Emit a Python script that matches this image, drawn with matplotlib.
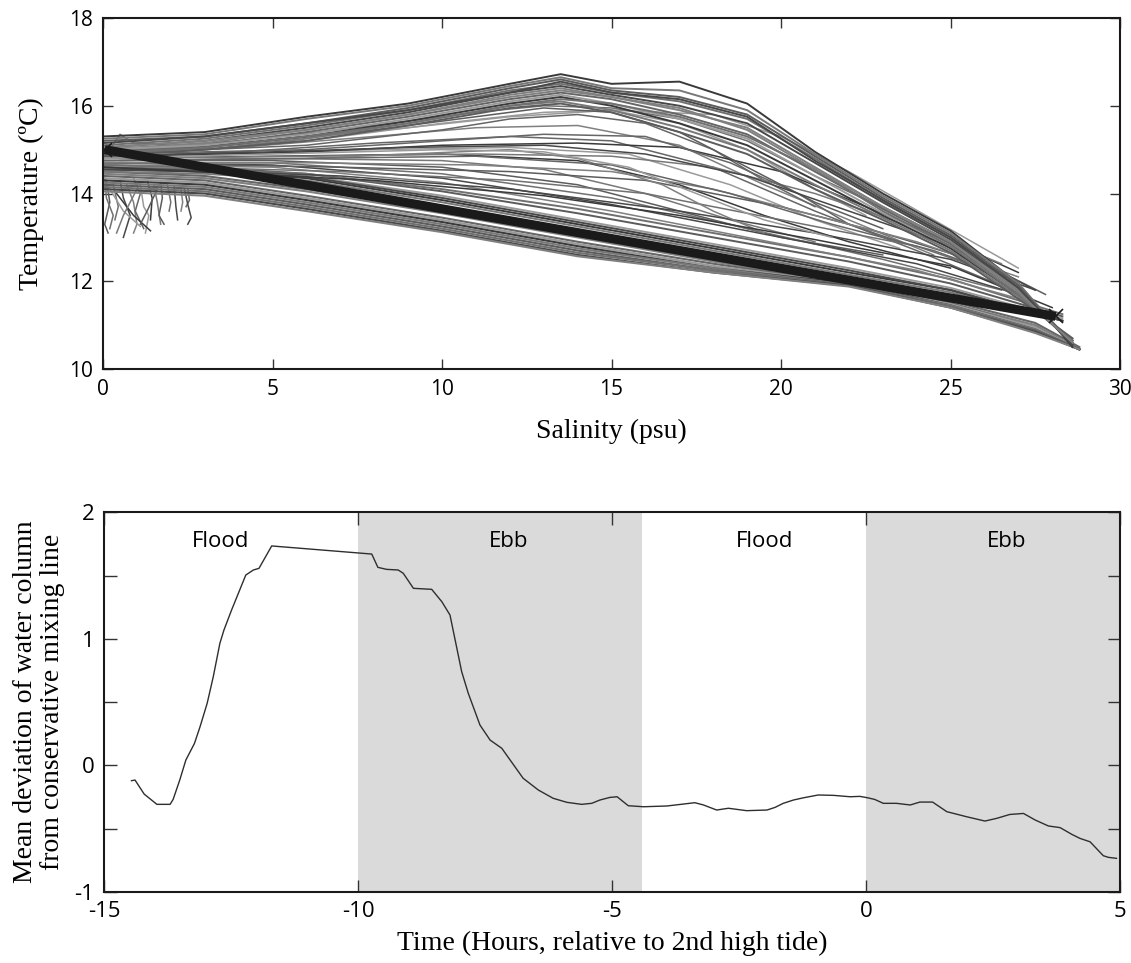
import numpy as np
import matplotlib
matplotlib.use("Agg")
import matplotlib.pyplot as plt

plt.rcParams['axes.unicode_minus'] = False

# ---------- top panel: T-S profiles (salinity psu, temperature degC) ----------
# warm bundle, common salinity grid
up_s = [0, 3, 6, 9, 12, 13.5, 15, 17, 19, 21, 23, 25, 27, 28.6]
up_t = [
    [15.3, 15.4, 15.75, 16.05, 16.5, 16.72, 16.5, 16.55, 16.05, 14.95, 14.0, 13.15, 11.95, 10.5],
    [15.25, 15.35, 15.7, 16.0, 16.45, 16.65, 16.4, 16.35, 15.9, 14.9, 13.95, 13.1, 11.95, 10.55],
    [15.2, 15.3, 15.6, 15.95, 16.4, 16.6, 16.35, 16.2, 15.8, 14.85, 13.9, 13.05, 11.9, 10.55],
    [15.1, 15.25, 15.55, 15.9, 16.35, 16.5, 16.3, 16.1, 15.7, 14.8, 13.85, 13.0, 11.85, 10.6],
    [15.05, 15.2, 15.5, 15.85, 16.3, 16.45, 16.25, 16.0, 15.6, 14.7, 13.8, 12.95, 11.8, 10.6],
    [15.0, 15.15, 15.45, 15.8, 16.2, 16.35, 16.2, 15.9, 15.5, 14.6, 13.7, 12.9, 11.8, 10.6],
    [14.95, 15.1, 15.4, 15.75, 16.15, 16.3, 16.15, 15.8, 15.35, 14.5, 13.65, 12.85, 11.75, 10.6],
    [15.0, 15.1, 15.35, 15.7, 16.1, 16.25, 16.05, 15.7, 15.25, 14.4, 13.55, 12.8, 11.7, 10.65],
    [14.9, 15.05, 15.3, 15.65, 16.05, 16.2, 16.0, 15.6, 15.1, 14.3, 13.5, 12.75, 11.7, 10.65],
    [14.95, 15.0, 15.25, 15.6, 16.0, 16.1, 15.9, 15.5, 15.0, 14.2, 13.45, 12.7, 11.65, 10.65],
    [14.85, 15.0, 15.2, 15.55, 15.95, 16.05, 15.85, 15.4, 14.9, 14.1, 13.4, 12.65, 11.6, 10.7],
    [14.9, 15.05, 15.3, 15.6, 16.0, 16.15, 16.05, 15.75, 15.3, 14.55, 13.6, 12.8, 11.7, 10.6],
    [15.15, 15.3, 15.6, 15.9, 16.3, 16.55, 16.3, 16.15, 15.75, 14.75, 13.85, 13.0, 11.85, 10.55],
    [15.05, 15.2, 15.45, 15.8, 16.25, 16.4, 16.2, 15.95, 15.45, 14.55, 13.7, 12.9, 11.75, 10.6],
]

# fan of profiles between the warm bundle and the mixing line
mid_profiles = [
    [(0, 14.9), (4, 15.05), (8, 15.3), (11, 15.5), (14, 15.55), (17, 15.1), (19.5, 14.2), (22, 13.4), (24.5, 12.6)],
    [(0, 14.85), (4, 14.95), (8, 15.15), (12, 15.3), (15, 15.2), (18, 14.6), (21, 13.6), (24, 12.7), (26.5, 11.9)],
    [(0, 14.8), (4, 14.9), (8, 15.0), (12, 15.05), (15.5, 14.9), (18.5, 14.2), (21, 13.4), (23.5, 12.75)],
    [(0, 14.8), (5, 14.85), (10, 14.9), (14, 14.75), (17, 14.2), (19.5, 13.5), (22, 12.9), (25, 12.3)],
    [(0, 14.75), (5, 14.8), (10, 14.75), (13, 14.55), (16, 14.0), (18.5, 13.4), (21, 12.9)],
    [(0, 14.75), (5, 14.75), (10, 14.6), (14, 14.2), (17, 13.6), (20, 13.0), (23, 12.6)],
    [(0, 14.7), (5, 14.7), (10, 14.45), (15, 13.9), (19, 13.2), (23, 12.5), (26.5, 11.8)],
    [(0, 14.7), (5, 14.65), (10, 14.35), (15, 13.75), (20, 13.0), (24, 12.4), (27, 11.7)],
    [(0, 14.65), (5, 14.6), (10, 14.25), (15, 13.6), (20, 12.85), (24, 12.25), (27.5, 11.5)],
    [(0, 14.9), (6, 15.1), (10, 15.45), (12, 15.7), (14, 15.8), (16, 15.6), (18, 15.0), (19.5, 14.3), (21, 13.7)],
    [(0, 14.95), (6, 15.2), (10, 15.6), (13, 15.85), (15, 15.9), (17, 15.6), (19, 15.0), (21, 14.1), (22.5, 13.5)],
    [(0.5, 14.85), (6, 14.95), (10, 15.1), (14, 15.15), (17, 15.05), (20, 14.5), (22.5, 13.7), (25, 12.9), (27, 12.2)],
    [(0, 14.8), (6, 14.85), (11, 14.9), (15, 14.85), (18, 14.6), (21, 14.0), (24, 13.2), (26.5, 12.4)],
    [(0, 14.7), (7, 14.6), (12, 14.5), (16, 14.3), (20, 13.7), (23, 13.1), (26, 12.4), (27.8, 11.7)],
    [(0, 14.65), (7, 14.5), (12, 14.3), (16, 14.0), (20, 13.4), (24, 12.8), (27, 12.0)],
    [(0, 14.6), (7, 14.4), (12, 14.1), (17, 13.6), (21, 13.1), (25, 12.5), (27.5, 11.8)],
    [(0.5, 14.75), (6, 14.8), (9, 14.9), (12, 15.0), (14, 14.8), (16.5, 14.2), (18, 13.6), (19.5, 13.1)],
    [(0, 14.9), (6, 15.0), (10, 15.2), (13, 15.35), (16, 15.3), (18.5, 14.7), (20.5, 14.0), (22, 13.3), (23.5, 12.9)],
    [(0, 15.0), (5, 15.2), (9, 15.5), (12, 15.75), (15, 15.9), (18, 15.8), (20, 15.3), (22, 14.5), (24.5, 13.4), (27, 12.3)],
    [(0, 14.6), (8, 14.3), (13, 13.95), (17, 13.5), (21, 12.95), (25, 12.35), (28, 11.4)],
    [(0.2, 15.0), (0.5, 15.35), (0.9, 15.15), (2, 15.1)],
    [(0, 14.95), (4, 15.15), (8, 15.45), (11, 15.75), (13, 15.95), (15, 15.85), (17, 15.4), (19, 14.6), (21, 13.8), (23, 13.2)],
    [(0, 15.0), (4, 15.2), (8, 15.55), (11, 15.85), (13, 16.0), (15, 15.95), (17, 15.7), (19, 15.2), (21, 14.4), (23.5, 13.5), (26, 12.5)],
    [(0, 14.85), (5, 14.95), (9, 15.05), (13, 15.1), (16, 14.9), (19, 14.4), (22, 13.6), (25, 12.8), (27.5, 11.8)],
    [(0, 14.7), (6, 14.7), (11, 14.65), (15, 14.5), (18, 14.1), (21, 13.5), (24, 12.9), (27, 12.1)],
    [(0, 14.75), (6, 14.8), (11, 14.85), (15, 14.65), (18.5, 14.0), (21.5, 13.3), (24.5, 12.7), (27, 12.0)],
    [(0, 14.8), (5, 14.9), (10, 15.0), (13, 14.95), (15.5, 14.6), (17.5, 14.0), (19.5, 13.4), (21.5, 13.0)],
]

# band just above the mixing line
near_s = [0, 3, 6, 10, 14, 18, 22, 25, 28.3]
near_t = [
    [14.6, 14.55, 14.4, 13.95, 13.4, 12.85, 12.3, 11.85, 11.15],
    [14.55, 14.5, 14.35, 13.85, 13.3, 12.75, 12.2, 11.8, 11.1],
    [14.5, 14.45, 14.3, 13.8, 13.25, 12.7, 12.15, 11.75, 11.1],
    [14.65, 14.6, 14.45, 14.05, 13.55, 13.0, 12.45, 11.95, 11.2],
    [14.6, 14.55, 14.45, 14.1, 13.65, 13.1, 12.55, 12.05, 11.25],
    [14.55, 14.5, 14.38, 13.9, 13.35, 12.8, 12.25, 11.8, 11.1],
]

# cold bundle below the mixing line
low_s = [0, 1.5, 3, 6, 10, 14, 18, 22, 25, 27.5, 28.8]
low_t = [
    [14.45, 14.4, 14.35, 14.05, 13.55, 13.0, 12.45, 11.95, 11.5, 11.0, 10.45],
    [14.4, 14.35, 14.3, 13.95, 13.45, 12.9, 12.4, 11.95, 11.5, 10.95, 10.45],
    [14.35, 14.3, 14.25, 13.9, 13.4, 12.85, 12.35, 11.95, 11.48, 10.95, 10.45],
    [14.3, 14.25, 14.2, 13.85, 13.35, 12.8, 12.3, 11.95, 11.45, 10.9, 10.45],
    [14.25, 14.2, 14.15, 13.8, 13.3, 12.75, 12.3, 11.92, 11.45, 10.9, 10.45],
    [14.2, 14.15, 14.1, 13.75, 13.25, 12.7, 12.25, 11.92, 11.42, 10.88, 10.45],
    [14.15, 14.1, 14.05, 13.7, 13.2, 12.65, 12.25, 11.9, 11.42, 10.85, 10.45],
    [14.1, 14.05, 14.0, 13.65, 13.15, 12.6, 12.2, 11.9, 11.4, 10.85, 10.45],
    [14.05, 14.0, 13.95, 13.6, 13.12, 12.57, 12.2, 11.88, 11.4, 10.82, 10.45],
    [14.5, 14.45, 14.4, 14.1, 13.6, 13.05, 12.5, 12.0, 11.55, 11.05, 10.5],
]

# short fresh-water casts near zero salinity
stubs = [
    [(0.1, 14.3), (0.2, 13.8), (0.05, 13.3), (0.15, 13.1)],
    [(0.3, 14.2), (0.45, 13.7), (0.35, 13.4)],
    [(0.5, 14.3), (0.6, 13.9), (0.8, 13.5), (0.6, 13.0)],
    [(0.7, 14.2), (0.9, 13.8), (1.0, 13.3), (0.9, 13.1)],
    [(0.9, 14.35), (1.1, 14.0), (0.95, 13.6), (1.2, 13.2)],
    [(1.1, 14.2), (1.2, 13.7), (1.35, 13.5), (1.25, 13.1)],
    [(1.3, 14.3), (1.45, 13.9), (1.4, 13.4)],
    [(1.5, 14.2), (1.6, 13.8), (1.7, 13.3)],
    [(1.7, 14.25), (1.75, 13.9), (1.65, 13.5), (1.8, 13.3)],
    [(1.9, 14.2), (2.0, 13.8), (1.95, 13.6)],
    [(2.1, 14.15), (2.15, 13.7), (2.2, 13.4)],
    [(2.3, 14.1), (2.35, 13.8), (2.3, 13.6)],
    [(2.5, 14.1), (2.55, 13.85), (2.45, 13.7)],
    [(0.2, 14.1), (0.6, 13.6), (1.1, 13.25)],
    [(0.4, 14.0), (0.9, 13.5), (1.4, 13.15)],
    [(1.0, 14.1), (0.6, 13.5), (0.4, 13.1)],
    [(1.6, 14.1), (1.3, 13.6), (1.1, 13.3)],
    [(0.05, 14.4), (0.1, 13.9), (0.3, 13.5), (0.2, 13.2)],
    [(2.4, 14.1), (2.5, 13.75), (2.6, 13.45), (2.5, 13.3)],
]

# conservative mixing line end members
mix_s = [0.05, 28.1]
mix_t = [15.0, 11.2]

# ---------- bottom panel: mean deviation vs time ----------
dev_time = [-14.46, -14.39, -14.21, -13.96, -13.70, -13.64, -13.51, -13.39, -13.22, -13.11,
            -12.97, -12.85, -12.72, -12.64, -12.49, -12.21, -12.06, -11.95, -11.70, -9.73,
            -9.61, -9.44, -9.21, -9.11, -8.91, -8.55, -8.35, -8.19, -7.96, -7.83,
            -7.60, -7.40, -7.17, -6.75, -6.45, -6.16, -5.89, -5.60, -5.40, -5.24,
            -5.04, -4.90, -4.68, -4.38, -3.92, -3.37, -3.20, -2.94, -2.71, -2.35,
            -1.95, -1.79, -1.63, -1.43, -1.23, -0.94, -0.64, -0.31, -0.12, 0.03,
            0.17, 0.34, 0.60, 0.87, 1.06, 1.31, 1.59, 1.98, 2.34, 2.57,
            2.83, 3.10, 3.33, 3.59, 3.82, 4.05, 4.21, 4.41, 4.67, 4.77, 4.93]
dev_value = [-0.122, -0.117, -0.228, -0.309, -0.309, -0.27, -0.117, 0.041, 0.173, 0.305,
             0.49, 0.70, 0.964, 1.069, 1.227, 1.504, 1.544, 1.557, 1.734, 1.67,
             1.565, 1.549, 1.544, 1.518, 1.399, 1.391, 1.293, 1.188, 0.740, 0.569,
             0.318, 0.199, 0.134, -0.103, -0.196, -0.261, -0.293, -0.309, -0.301, -0.275,
             -0.254, -0.249, -0.320, -0.328, -0.322, -0.296, -0.314, -0.354, -0.340, -0.359,
             -0.354, -0.333, -0.301, -0.275, -0.257, -0.235, -0.238, -0.249, -0.246, -0.257,
             -0.270, -0.301, -0.301, -0.314, -0.291, -0.291, -0.367, -0.407, -0.441, -0.420,
             -0.389, -0.381, -0.433, -0.480, -0.493, -0.546, -0.578, -0.605, -0.715, -0.728, -0.736]

ebb_periods = [(-10.0, -4.42), (0.0, 5.0)]
phase_labels = ["Flood", "Ebb", "Flood", "Ebb"]
phase_x = [-12.70, -7.03, -1.99, 2.77]

grays = ['#5c5c5c', '#707070', '#484848', '#808080', '#666666', '#9a9a9a', '#3a3a3a', '#787878']
tick_font = 'Open Sans'
label_font = 'Liberation Serif'

fig = plt.figure(figsize=(11.31, 9.63), dpi=100)
ax1 = fig.add_axes([0.0911, 0.6168, 0.8992, 0.3645])
ax2 = fig.add_axes([0.092, 0.074, 0.8983, 0.394])

k = 0
for st in stubs:
    ax1.plot([p[0] for p in st], [p[1] for p in st], color=grays[k % 8], lw=1.1)
    k += 1
for tt in low_t:
    ax1.plot(low_s, tt, color=grays[k % 8], lw=1.5)
    k += 1
for tt in near_t:
    ax1.plot(near_s, tt, color=grays[k % 8], lw=1.4)
    k += 1
for pr in mid_profiles:
    ax1.plot([p[0] for p in pr], [p[1] for p in pr], color=grays[k % 8], lw=1.1)
    k += 1
for tt in up_t:
    ax1.plot(up_s, tt, color=grays[k % 8], lw=1.4)
    k += 1
ax1.plot(mix_s, mix_t, color='#1a1a1a', lw=6.5, solid_capstyle='butt', zorder=5)
ax1.plot(mix_s, mix_t, 'x', color='#1a1a1a', ms=10, mew=1.2, zorder=6)

ax1.set_xlim(0, 30)
ax1.set_ylim(10, 18)
ax1.set_xticks([0, 5, 10, 15, 20, 25, 30])
ax1.set_yticks([10, 12, 14, 16, 18])
ax1.set_xlabel("Salinity (psu)", family=label_font, fontsize=20, labelpad=14)
ax1.set_ylabel("Temperature (ºC)", family=label_font, fontsize=20)
ax1.yaxis.set_label_coords(-0.058, 0.5)

# bottom panel
for a, b in ebb_periods:
    ax2.axvspan(a, b, color='#dadada', lw=0, zorder=0)
ax2.plot(dev_time, dev_value, color='#2e2e2e', lw=1.0)
for lab, xx in zip(phase_labels, phase_x):
    ax2.text(xx, 1.77, lab, family=tick_font, fontsize=16, ha='center', va='center')
ax2.set_xlim(-15, 5)
ax2.set_ylim(-1, 2)
ax2.set_xticks([-15, -10, -5, 0, 5])
ax2.set_yticks([-1, -0.5, 0, 0.5, 1, 1.5, 2])
ax2.set_yticklabels(['-1', '', '0', '', '1', '', '2'])
ax2.set_xlabel("Time (Hours, relative to 2nd high tide)", family=label_font, fontsize=20, labelpad=6)
ax2.set_ylabel("Mean deviation of water column\nfrom conservative mixing line",
               family=label_font, fontsize=20, linespacing=1.15)
ax2.yaxis.set_label_coords(-0.038, 0.5)

for ax, tl, fs in [(ax1, 7, 15), (ax2, 9, 16)]:
    for sp in ax.spines.values():
        sp.set_linewidth(1.5)
        sp.set_color('#1a1a1a')
    ax.tick_params(direction='in', length=tl, width=1.0, top=True, right=True,
                   labelsize=fs, pad=7, color='#333333')
    for lbl in ax.get_xticklabels() + ax.get_yticklabels():
        lbl.set_family(tick_font)

fig.savefig("out.png", dpi=100)
